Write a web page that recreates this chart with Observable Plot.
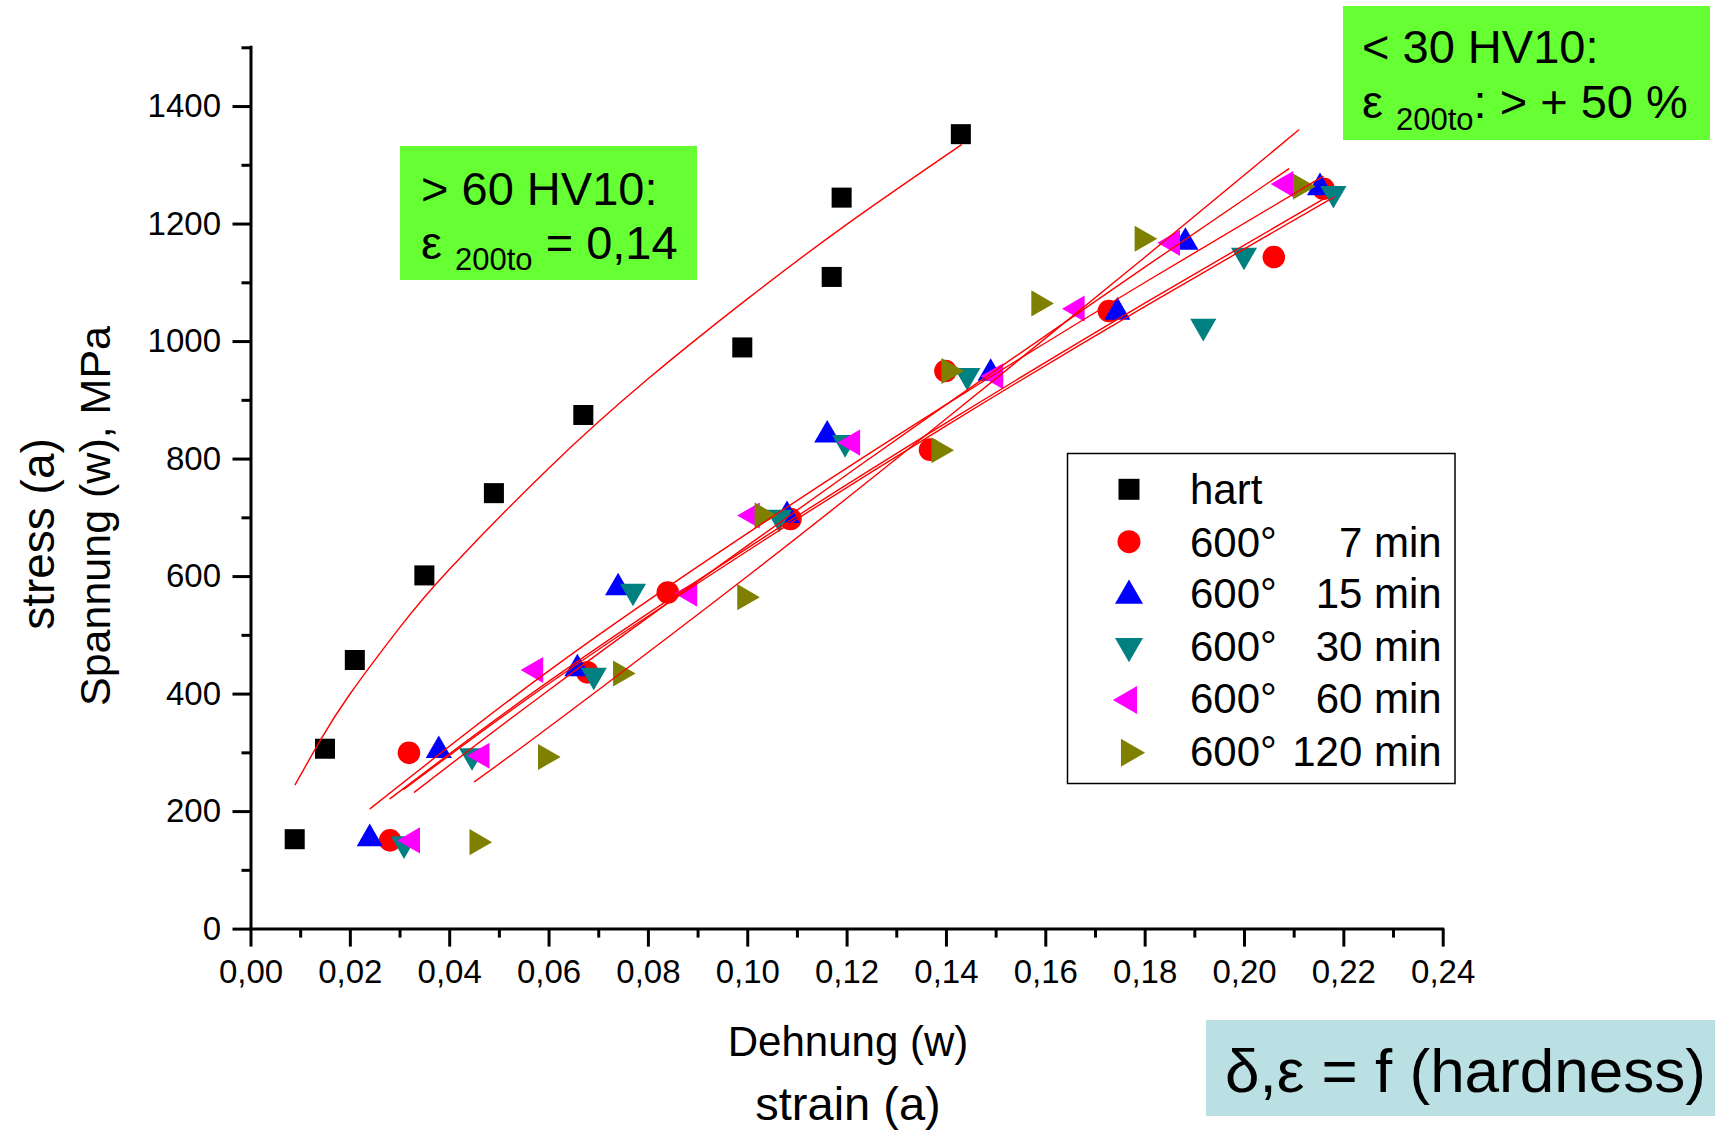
<!DOCTYPE html>
<html>
<head>
<meta charset="utf-8">
<script src="https://cdn.jsdelivr.net/npm/d3@7"></script>
<script src="https://cdn.jsdelivr.net/npm/@observablehq/plot@0.6"></script>
<style>
html,body{margin:0;padding:0;background:#fff;overflow:hidden;}
#page{position:relative;width:1715px;height:1133px;overflow:hidden;background:#fff;font-family:"Liberation Sans",Arial,sans-serif;color:#000;}
#chart{position:absolute;left:0;top:0;}
#overlay{position:absolute;left:0;top:0;}
</style>
</head>
<body>
<div id="page"><div id="chart"></div></div>
<script>
// ---------- axis ticks ----------
const xTicks = [0,0.02,0.04,0.06,0.08,0.10,0.12,0.14,0.16,0.18,0.20,0.22,0.24];
const xTickLabels = ["0,00","0,02","0,04","0,06","0,08","0,10","0,12","0,14","0,16","0,18","0,20","0,22","0,24"];
const xMinorTicks = [0.01,0.03,0.05,0.07,0.09,0.11,0.13,0.15,0.17,0.19,0.21,0.23];
const yTicks = [0,200,400,600,800,1000,1200,1400];
const yTickLabels = ["0","200","400","600","800","1000","1200","1400"];
const yMinorTicks = [100,300,500,700,900,1100,1300,1500];

// ---------- series (strain, stress in MPa) ----------
const seriesLeft  = ["hart","600°","600°","600°","600°","600°"];
const seriesRight = ["","7 min","15 min","30 min","60 min","120 min"];

const hartStrain   = [0.0088,0.0149,0.0209,0.0349,0.0489,0.0669,0.0989,0.1169,0.1189,0.1429];
const hartStress   = [153,307,458,602,742,875,990,1110,1245,1353];
const min7Strain   = [0.0280,0.0318,0.0677,0.0839,0.1086,0.1367,0.1398,0.1727,0.2059,0.2159];
const min7Stress   = [151,300,437,573,698,816,950,1052,1144,1260];
const min15Strain  = [0.0239,0.0378,0.0657,0.0739,0.1079,0.1160,0.1489,0.1744,0.1881,0.2152];
const min15Stress  = [154,304,443,581,704,841,946,1050,1169,1262];
const min30Strain  = [0.0308,0.0445,0.0690,0.0769,0.1063,0.1196,0.1442,0.1917,0.1999,0.2179];
const min30Stress  = [145,295,432,575,701,828,942,1026,1147,1252];
const min60Strain  = [0.0325,0.0465,0.0573,0.0883,0.1009,0.1211,0.1499,0.1663,0.1855,0.2083];
const min60Stress  = [151,295,441,571,704,828,941,1056,1168,1268];
const min120Strain = [0.0455,0.0593,0.0744,0.0994,0.1029,0.1385,0.1405,0.1586,0.1794,0.2113];
const min120Stress = [148,293,435,565,704,815,950,1065,1175,1264];

// ---------- fitted curves ----------
const fitHartStrain  = [0.0089,0.014,0.02,0.03,0.04,0.06,0.08,0.10,0.12,0.143];
const fitHartStress  = [246,322,401,514,613,785,937,1073,1200,1335];
const fit7Strain     = [0.028,0.06,0.10,0.14,0.18,0.2162];
const fit7Stress     = [222,422,649,862,1066,1244];
const fit15Strain    = [0.024,0.06,0.10,0.14,0.18,0.2158];
const fit15Stress    = [205,440,674,893,1101,1281];
const fit30Strain    = [0.0308,0.06,0.10,0.14,0.18,0.218];
const fit30Stress    = [238,418,644,857,1060,1246];
const fit60Strain    = [0.0329,0.06,0.10,0.14,0.18,0.2089];
const fit60Stress    = [233,407,653,893,1127,1294];
const fit120Strain   = [0.045,0.06,0.10,0.14,0.18,0.2109];
const fit120Stress   = [251,344,601,869,1144,1360];

const toRows = (xs, ys, s) => xs.map((x, i) => ({x, y: ys[i], s}));

const hart   = toRows(hartStrain, hartStress, "hart");
const m7     = toRows(min7Strain, min7Stress, "7");
const m15    = toRows(min15Strain, min15Stress, "15");
const m30    = toRows(min30Strain, min30Stress, "30");
const m60    = toRows(min60Strain, min60Stress, "60");
const m120   = toRows(min120Strain, min120Stress, "120");

const fits = [
  ...toRows(fitHartStrain, fitHartStress, "hart"),
  ...toRows(fit7Strain, fit7Stress, "7"),
  ...toRows(fit15Strain, fit15Stress, "15"),
  ...toRows(fit30Strain, fit30Stress, "30"),
  ...toRows(fit60Strain, fit60Stress, "60"),
  ...toRows(fit120Strain, fit120Stress, "120")
];

const colors = {hart:"#000000", m7:"#ff0000", m15:"#0000ff", m30:"#008080", m60:"#ff00ff", m120:"#808000"};
const W = 1715, H = 1133;
const mL = 250.5, mR = 272.3, mT = 47.3, mB = 204.4;
const rSq = 11.3, rTri = 9.7;

const chart = Plot.plot({
  width: W, height: H,
  marginLeft: mL, marginRight: mR, marginTop: mT, marginBottom: mB,
  style: {fontFamily: "'Liberation Sans', Arial, sans-serif", background: "transparent", color: "#000", overflow: "visible"},
  x: {domain: [0, 0.24]},
  y: {domain: [0, 1500]},
  marks: [
    Plot.axisX({ticks: xTicks, tickSize: 18, tickPadding: 12, strokeWidth: 3, fontSize: 33,
      tickFormat: d => xTickLabels[xTicks.indexOf(d)], label: null}),
    Plot.axisX({ticks: xMinorTicks, tickSize: 9, strokeWidth: 3, tickFormat: () => "", label: null}),
    Plot.axisY({ticks: yTicks, tickSize: 18, tickPadding: 12, strokeWidth: 3, fontSize: 33,
      tickFormat: d => yTickLabels[yTicks.indexOf(d)], label: null}),
    Plot.axisY({ticks: yMinorTicks, tickSize: 9, strokeWidth: 3, tickFormat: () => "", label: null}),
    Plot.ruleY([0], {stroke: "#000", strokeWidth: 3, strokeLinecap: "square"}),
    Plot.ruleX([0], {stroke: "#000", strokeWidth: 3, strokeLinecap: "square"}),
    Plot.dot(hart, {x: "x", y: "y", symbol: "square", r: rSq, fill: colors.hart}),
    Plot.dot(m7,   {x: "x", y: "y", symbol: "circle", r: rSq, fill: colors.m7}),
    Plot.dot(m15,  {x: "x", y: "y", symbol: "triangle", r: rTri, fill: colors.m15}),
    Plot.dot(m30,  {x: "x", y: "y", symbol: "triangle", rotate: 180, r: rTri, fill: colors.m30}),
    Plot.dot(m60,  {x: "x", y: "y", symbol: "triangle", rotate: -90, r: rTri, fill: colors.m60}),
    Plot.dot(m120, {x: "x", y: "y", symbol: "triangle", rotate: 90, r: rTri, fill: colors.m120}),
    Plot.line(fits, {x: "x", y: "y", z: "s", stroke: "#ff0000", strokeWidth: 1.4, curve: "natural"})
  ]
});
document.getElementById("chart").appendChild(chart);

// ---------- overlay: annotations, titles, legend ----------
const ov = d3.select("#page").append("svg").attr("id", "overlay")
  .attr("width", W).attr("height", H)
  .style("font-family", "'Liberation Sans', Arial, sans-serif");

function txt(x, y, s, size, anchor = "start") {
  return ov.append("text").attr("x", x).attr("y", y).attr("font-size", size)
    .attr("text-anchor", anchor).attr("fill", "#000").text(s);
}

// axis titles
ov.append("text").attr("transform", "translate(54,534) rotate(-90)").attr("text-anchor", "middle")
  .attr("font-size", 46).text("stress (a)");
ov.append("text").attr("transform", "translate(110,516) rotate(-90)").attr("text-anchor", "middle")
  .attr("font-size", 43).text("Spannung (w), MPa");
txt(848, 1056, "Dehnung (w)", 42, "middle");
txt(848, 1120, "strain (a)", 47, "middle");

// green box 1
ov.append("rect").attr("x", 400).attr("y", 146).attr("width", 297).attr("height", 134).attr("fill", "#66ff33");
txt(421, 205, "> 60 HV10:", 47);
{
  const t = ov.append("text").attr("x", 421).attr("y", 259).attr("font-size", 47);
  t.append("tspan").text("ε ");
  t.append("tspan").attr("font-size", 31).attr("dy", 11).text("200to");
  t.append("tspan").attr("dy", -11).text(" = 0,14");
}
// green box 2
ov.append("rect").attr("x", 1343).attr("y", 6).attr("width", 367).attr("height", 134).attr("fill", "#66ff33");
txt(1362, 63, "< 30 HV10:", 47);
{
  const t = ov.append("text").attr("x", 1362).attr("y", 118).attr("font-size", 47);
  t.append("tspan").text("ε ");
  t.append("tspan").attr("font-size", 31).attr("dy", 12).text("200to");
  t.append("tspan").attr("dy", -12).text(": > + 50 %");
}
// blue box
ov.append("rect").attr("x", 1206).attr("y", 1020).attr("width", 520).attr("height", 96).attr("fill", "#bbe0e3");
txt(1225, 1092, "δ,ε = f (hardness)", 62);

// legend
ov.append("rect").attr("x", 1067.5).attr("y", 453.5).attr("width", 387.5).attr("height", 330)
  .attr("fill", "#fff").attr("stroke", "#000").attr("stroke-width", 1.5);
const legBase = [503.5, 556.7, 608.3, 660.7, 713.3, 765.7];
const legSymY = [489.3, 541.7, 595.7, 646, 700, 752.7];
const legSym = [
  {type: d3.symbolSquare, size: 21 * 21, rot: 0, fill: colors.hart},
  {type: d3.symbolCircle, size: Math.PI * 11.5 * 11.5, rot: 0, fill: colors.m7},
  {type: d3.symbolTriangle, size: 339, rot: 0, fill: colors.m15},
  {type: d3.symbolTriangle, size: 339, rot: 180, fill: colors.m30},
  {type: d3.symbolTriangle, size: 339, rot: -90, fill: colors.m60},
  {type: d3.symbolTriangle, size: 339, rot: 90, fill: colors.m120}
];
legSym.forEach((s, i) => {
  ov.append("path").attr("d", d3.symbol(s.type, s.size)())
    .attr("transform", `translate(1129,${legSymY[i]}) rotate(${s.rot})`).attr("fill", s.fill);
  txt(1190, legBase[i], seriesLeft[i], 42);
  if (seriesRight[i]) txt(1441.7, legBase[i], seriesRight[i], 42, "end");
});
</script>
</body>
</html>
